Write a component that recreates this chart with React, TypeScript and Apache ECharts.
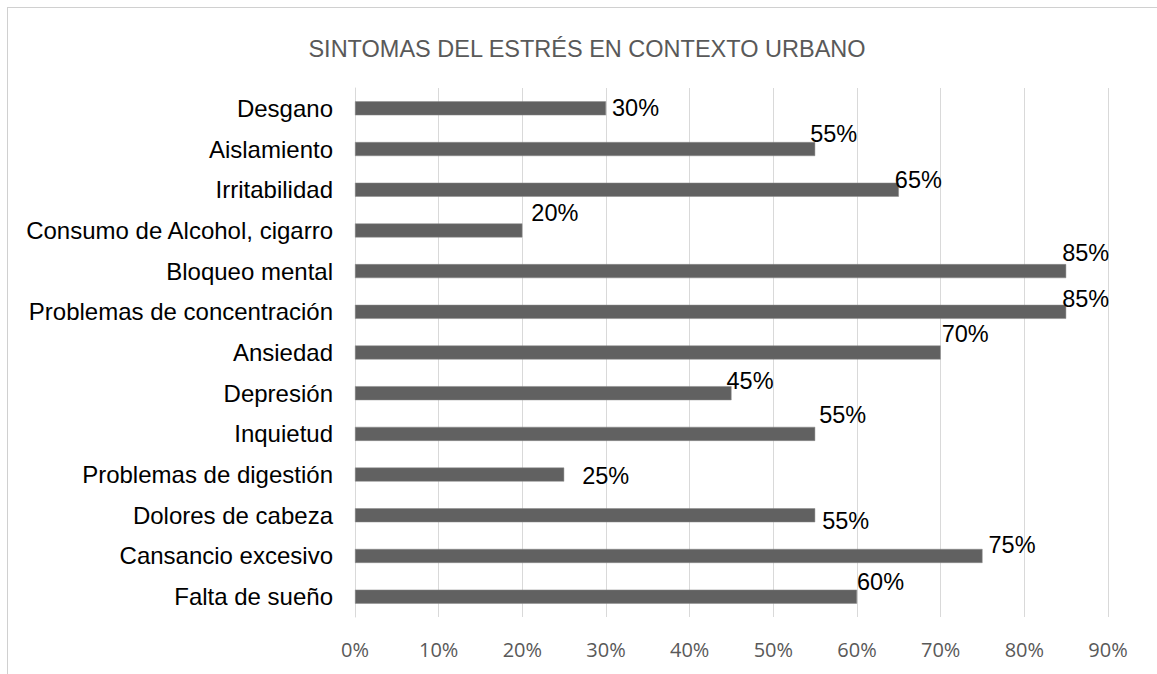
import React, { useEffect, useRef } from "react";
import * as echarts from "echarts";

const categories = [
  "Desgano",
  "Aislamiento",
  "Irritabilidad",
  "Consumo de Alcohol, cigarro",
  "Bloqueo mental",
  "Problemas de concentración",
  "Ansiedad",
  "Depresión",
  "Inquietud",
  "Problemas de digestión",
  "Dolores de cabeza",
  "Cansancio excesivo",
  "Falta de sueño",
];

const values = [30, 55, 65, 20, 85, 85, 70, 45, 55, 25, 55, 75, 60];

const xTicks = [0, 10, 20, 30, 40, 50, 60, 70, 80, 90];

// label offsets (style only), in px, relative to the bar end
const labelOffsets: [number, number][] = [
  [4, 0],
  [-7, -15],
  [-6, -10],
  [7, -17],
  [-6, -18],
  [-6, -13],
  [-1, -19],
  [-7, -12],
  [2, -19],
  [16, 1],
  [5, 6],
  [4, -11],
  [-2, -15],
];

const FONT = "'Liberation Sans', Arial, sans-serif";

export default function App() {
  const ref = useRef<HTMLDivElement>(null);
  useEffect(() => {
    document.body.style.overflow = "hidden";
    const chart = echarts.init(ref.current!, null, { renderer: "svg" });
    chart.setOption({
      animation: false,
      title: {
        text: "SINTOMAS DEL ESTRÉS EN CONTEXTO URBANO",
        left: 574,
        top: 24,
        textAlign: "center",
        textStyle: {
          fontFamily: FONT,
          fontSize: 23.5,
          fontWeight: "normal",
          color: "#595959",
        },
      },
      grid: { left: 347, top: 80, width: 753, height: 529, containLabel: false },
      xAxis: {
        type: "value",
        min: 0,
        max: xTicks[xTicks.length - 1],
        interval: 10,
        axisLine: { show: false },
        axisTick: { show: false },
        splitLine: { lineStyle: { color: "#d9d9d9", width: 1 } },
        axisLabel: {
          formatter: (v: number) => `${v}%`,
          color: "#595959",
          fontSize: 20,
          fontFamily: "'Open Sans', sans-serif",
          margin: 22,
        },
      },
      yAxis: {
        type: "category",
        data: categories,
        inverse: true,
        axisLine: { show: true, lineStyle: { color: "#d9d9d9" } },
        axisTick: { show: false },
        axisLabel: {
          color: "#000",
          fontSize: 24,
          fontFamily: FONT,
          margin: 22,
        },
      },
      series: [
        {
          type: "bar",
          barWidth: 14,
          data: values.map((v, i) => ({
            value: v,
            label: { offset: labelOffsets[i] },
          })),
          itemStyle: { color: "#616161", borderColor: "#8a8a8a", borderWidth: 0.5 },
          label: {
            show: true,
            position: "right",
            distance: 2,
            formatter: (p: any) => `${p.value}%`,
            color: "#000",
            fontSize: 23.5,
            fontFamily: FONT,
          },
        },
      ],
    });
    return () => chart.dispose();
  }, []);
  return (
    <div
      style={{
        position: "absolute",
        left: 7,
        top: 7,
        width: 1200,
        height: 720,
        border: "1px solid #d0d0d0",
        boxSizing: "border-box",
        background: "#fff",
      }}
    >
      <div ref={ref} style={{ position: "absolute", left: 0, top: 0, width: 1190, height: 710 }} />
    </div>
  );
}
